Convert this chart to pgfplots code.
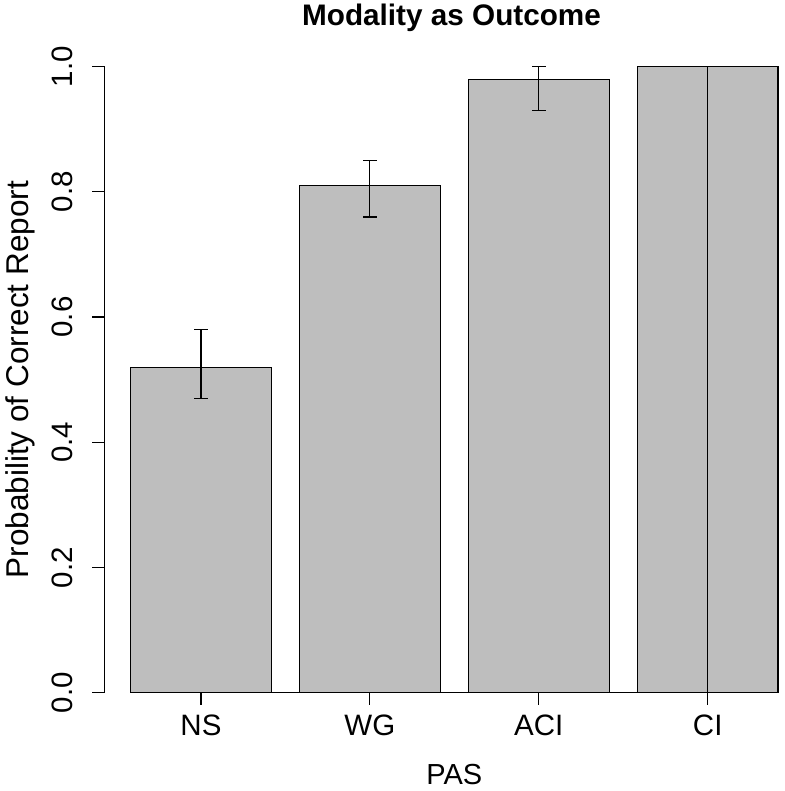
\documentclass[border=0pt]{standalone}
\usepackage{fontspec}
\setmainfont{Liberation Sans}
\usepackage{pgfplots}
\usepackage{pgfplotstable}
\pgfplotsset{compat=1.18}
\definecolor{bargray}{HTML}{BEBEBE}
\pgfplotstableread{
x y ep em
0.7 0.52 0.06 0.05
1.9 0.81 0.04 0.05
3.1 0.98 0.02 0.05
4.3 1.00 0.00 1.00
}\datatable
\begin{document}
\begin{tikzpicture}
\begin{axis}[
  at={(104.7pt,98.3pt)}, anchor=south west,
  scale only axis, width=679.3pt, height=626pt,
  xmin=0.016, xmax=4.842, ymin=0, ymax=1,
  axis x line=bottom, axis y line=left,
  axis line style={-, line width=1.2pt, black},
  x axis line style={draw=none},
  xtick={0.7,1.9,3.1,4.3}, xticklabels={NS,WG,ACI,CI},
  ytick={0,0.2,0.4,0.6,0.8,1.0}, yticklabels={0.0,0.2,0.4,0.6,0.8,1.0},
  tick align=outside, major tick length=12.3pt,
  tick style={line width=1.2pt, black},
  xticklabel style={font=\fontsize{29.5}{35}\selectfont, anchor=base, inner sep=0pt, yshift=-31pt},
  yticklabel style={font=\fontsize{29.5}{35}\selectfont, rotate=90, anchor=base, inner sep=0pt, yshift=20pt},
  xlabel={PAS}, ylabel={Probability of Correct Report},
  xlabel style={font=\fontsize{29}{35}\selectfont, at={(axis cs:2.5,0)}, anchor=base, inner sep=0pt, yshift=-91.6pt},
  ylabel style={font=\fontsize{31.5}{37}\selectfont, at={(axis cs:0.016,0.5)}, anchor=base, inner sep=0pt, yshift=75.7pt},
  title={Modality as Outcome},
  title style={font=\fontsize{29.7}{35}\selectfont\bfseries, at={(axis cs:2.48,1)}, anchor=base, inner sep=0pt, yshift=34.7pt},
  clip=false,
]
\addplot[ybar, bar width=1, bar shift=0pt, fill=bargray, draw=black, line width=1.2pt,
  error bars/.cd, y dir=both, y explicit,
  error bar style={line width=1.2pt, black},
  error mark options={rotate=90, mark size=6.7pt, line width=1.2pt, black}]
  table[x=x, y=y, y error plus=ep, y error minus=em] {\datatable};
\addplot[line width=1.2pt, black, mark=none] coordinates {(0.7,0) (4.3,0)};
\end{axis}
\pgfresetboundingbox
\path[use as bounding box] (0,0) rectangle (784pt,791pt);
\end{tikzpicture}
\end{document}
